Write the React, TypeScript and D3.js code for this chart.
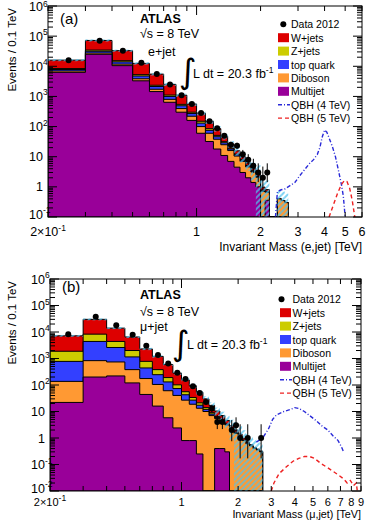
"use client";

import React, { useRef, useEffect } from 'react';
import * as d3 from 'd3';

const FONT = 'Liberation Sans, Arial, Helvetica, sans-serif';

// histogram bins, 0.1 TeV wide
const binCenters = [0.25, 0.35, 0.45, 0.55, 0.65, 0.75, 0.85, 0.95, 1.05, 1.15, 1.25, 1.35, 1.45, 1.55, 1.65, 1.75, 1.85, 1.95, 2.05, 2.15, 2.25, 2.35, 2.45, 2.55, 2.65];
const binWidth = 0.1;

const legendLabels = ['Data 2012', 'W+jets', 'Z+jets', 'top quark', 'Diboson', 'Multijet', 'QBH (4 TeV)', 'QBH (5 TeV)'];
// stack order bottom -> top
const stackColors = ['#990099', '#ff9933', '#3340ff', '#cccc00', '#dd0000'];

// (a) e+jet
const eData = [16000, 70000, 33000, 13000, 5500, 2500, 1100, 560, 280, 150, 88, 50, 25, 23, 12, 8, 5, 3, 2, 3, 0, 0, 0, 0, 0];
const eMultijet = [6300, 25000, 10500, 3300, 1450, 640, 300, 160, 60, 32, 18, 11, 7, 4.5, 3, 2, 1.4, 1.0, 0, 0.36, 0, 0, 0, 0, 0];
const eDiboson = [700, 2500, 1300, 550, 280, 160, 95, 60, 40, 28, 20, 14, 9, 6, 4, 2.6, 1.7, 1.1, 0.7, 0.3, 0, 0, 0.4, 0.35, 0.3];
const eTop = [800, 4000, 2200, 900, 400, 200, 95, 50, 30, 15, 8, 4, 2, 1.1, 0.6, 0.35, 0.2, 0.1, 0.05, 0.03, 0, 0, 0, 0, 0];
const eZjets = [600, 3000, 1300, 520, 220, 110, 55, 30, 20, 10, 5, 2.5, 1.2, 0.6, 0.3, 0.15, 0.1, 0.05, 0.03, 0.02, 0, 0, 0, 0, 0];
const eWjets = [7600, 37500, 17700, 7200, 3150, 1400, 555, 260, 130, 65, 34, 16, 7, 3.5, 2, 1.1, 0.6, 0.35, 0.2, 0.1, 0, 0, 0, 0, 0];
const eRelErr = [0.08, 0.08, 0.08, 0.09, 0.1, 0.11, 0.12, 0.14, 0.16, 0.18, 0.2, 0.22, 0.25, 0.3, 0.35, 0.45, 0.6, 1, 1, 1, 1, 1, 1, 1, 1];
const eQbh4X = [2.35, 2.4, 2.5, 2.6, 2.75, 2.9, 3.05, 3.2, 3.4, 3.55, 3.7, 3.8, 3.9, 4.0, 4.1, 4.2, 4.35, 4.5, 4.65, 4.8, 4.9, 5.0];
const eQbh4Y = [0.1, 0.7, 0.8, 0.85, 1.1, 1.4, 2.3, 3.5, 6, 8, 12, 20, 45, 77, 65, 42, 22, 10, 3.5, 1.2, 0.5, 0.1];
const eQbh5X = [4.2, 4.4, 4.6, 4.8, 4.95, 5.1, 5.25, 5.4, 5.55];
const eQbh5Y = [0.1, 0.25, 0.6, 1.2, 1.6, 1.5, 0.9, 0.35, 0.1];
const eXLabels = [1, 2, 3, 4, 5, 6];

// (b) mu+jet
const muData = [8300, 38000, 18000, 7800, 3000, 1350, 650, 290, 170, 90, 50, 23, 13, 4, 4, 0, 2, 3, 1, 0, 1, 0, 0, 0, 1];
const muMultijet = [22, 200, 220, 120, 44, 16, 5.8, 2.4, 0.8, 0.8, 0.25, 0, 0, 0.4, 0.4, 0.3, 0, 0, 0, 0, 0, 0, 0, 0, 0];
const muDiboson = [115, 630, 520, 260, 131, 89, 55, 38, 26, 18, 13, 10, 7, 5, 3.8, 2.8, 2.0, 1.5, 1.1, 0.8, 0.6, 0.5, 0.4, 0.35, 0.3];
const muTop = [640, 3570, 1860, 770, 265, 140, 70, 33, 16, 8, 4, 2, 1, 0.5, 0.3, 0.15, 0.1, 0.05, 0.03, 0.02, 0.01, 0, 0, 0, 0];
const muZjets = [1100, 3900, 1800, 850, 340, 135, 60, 28, 13, 7, 4, 2, 1, 0.5, 0.3, 0.15, 0.08, 0.04, 0.02, 0.01, 0, 0, 0, 0, 0];
const muWjets = [5300, 21700, 9600, 4500, 1520, 820, 400, 180, 100, 60, 32, 16, 8, 4, 2.2, 1.2, 0.7, 0.4, 0.25, 0.15, 0.1, 0.06, 0.04, 0.03, 0.02];
const muRelErr = [0.08, 0.08, 0.08, 0.09, 0.1, 0.11, 0.12, 0.14, 0.16, 0.18, 0.2, 0.25, 0.3, 0.35, 0.4, 0.5, 0.7, 1, 1, 1, 1, 1, 1, 1, 1];
const muQbh4X = [2.5, 2.7, 2.9, 3.05, 3.2, 3.5, 3.8, 4.0, 4.2, 4.5, 4.8, 5.2, 5.6, 6.0, 6.4, 6.8, 7.1, 7.3];
const muQbh4Y = [0.7, 1.0, 2.2, 5, 7.5, 10, 12, 14, 13, 10, 7, 4.5, 2.8, 2.0, 1.2, 0.8, 0.45, 0.28];
const muQbh5X = [3.0, 3.1, 3.3, 3.6, 3.9, 4.2, 4.5, 4.8, 5.1, 5.5, 6.0, 6.4, 6.9, 7.3, 7.6, 7.9, 8.2, 8.5, 8.6];
const muQbh5Y = [0.01, 0.02, 0.045, 0.08, 0.13, 0.17, 0.2, 0.2, 0.17, 0.11, 0.075, 0.055, 0.038, 0.028, 0.02, 0.025, 0.016, 0.02, 0.01];
const muXLabels = [1, 2, 3, 4, 5, 6, 7, 8, 9];

const panels = [
  {
    id: 'a', left: 48, right: 362, top: 6, bottom: 217,
    xDomain: [0.2, 6], yExp: [-1, 6],
    data: eData, stack: [eMultijet, eDiboson, eTop, eZjets, eWjets], relErr: eRelErr,
    qbh4: [eQbh4X, eQbh4Y], qbh5: [eQbh5X, eQbh5Y], xLabels: eXLabels,
    tag: '(a)', channel: 'e+jet', xTitle: 'Invariant Mass (e,jet) [TeV]',
    xTitleY: 251, xLabY: 235.5, xLabSize: 12.5, xTitleSize: 12,
    tagPos: [60, 23.5], atlasY: 22.5, sqrtsY: 37.5, chanPos: [148, 56],
    intPos: [179, 83], lumiPos: [193, 77.5], legY: 24.3, legBox: 278, legDot: 283.3, legText: 291,
  },
  {
    id: 'b', left: 50, right: 361, top: 279, bottom: 491,
    xDomain: [0.2, 9], yExp: [-2, 6],
    data: muData, stack: [muMultijet, muDiboson, muTop, muZjets, muWjets], relErr: muRelErr,
    qbh4: [muQbh4X, muQbh4Y], qbh5: [muQbh5X, muQbh5Y], xLabels: muXLabels,
    tag: '(b)', channel: 'μ+jet', xTitle: 'Invariant Mass (μ,jet) [TeV]',
    xTitleY: 517.7, xLabY: 505.6, xLabSize: 11, xTitleSize: 10.8,
    tagPos: [62, 292], atlasY: 299, sqrtsY: 316, chanPos: [140, 331],
    intPos: [172, 355], lumiPos: [187, 349], legY: 299.3, legBox: 280, legDot: 281.5, legText: 292.5,
  },
];

function drawPanel(svg: any, defs: any, p: any) {
  const g = svg.append('g');
  const x = d3.scaleLog().domain(p.xDomain).range([p.left, p.right]);
  const y = d3.scaleLog().domain([Math.pow(10, p.yExp[0]), Math.pow(10, p.yExp[1])]).range([p.bottom, p.top]).clamp(true);
  const yv = (v: number) => (v > 0 ? y(v) : p.bottom);
  const half = binWidth / 2;

  defs.append('clipPath').attr('id', 'clip-' + p.id)
    .append('rect').attr('x', p.left).attr('y', p.top)
    .attr('width', p.right - p.left).attr('height', p.bottom - p.top);
  const plot = g.append('g').attr('clip-path', `url(#clip-${p.id})`);

  // cumulative stack
  const cum: number[][] = [];
  let run = binCenters.map(() => 0);
  p.stack.forEach((layer: number[]) => {
    run = run.map((r, i) => r + layer[i]);
    cum.push(run);
  });

  const stepPath = (vals: number[]) => {
    let d = `M${x(binCenters[0] - half)},${p.bottom}`;
    binCenters.forEach((c, i) => {
      const yy = yv(vals[i]);
      d += `L${x(c - half)},${yy}L${x(c + half)},${yy}`;
    });
    d += `L${x(binCenters[binCenters.length - 1] + half)},${p.bottom}Z`;
    return d;
  };

  for (let k = cum.length - 1; k >= 0; k--) {
    plot.append('path').attr('d', stepPath(cum[k]))
      .attr('fill', stackColors[k]).attr('stroke', '#000').attr('stroke-width', 1);
  }

  // MC uncertainty band
  const total = cum[cum.length - 1];
  binCenters.forEach((c, i) => {
    const tot = total[i];
    if (tot <= 0) return;
    const hi = tot * (1 + p.relErr[i]);
    const lo = tot * (1 - p.relErr[i]);
    plot.append('rect')
      .attr('x', x(c - half)).attr('width', x(c + half) - x(c - half))
      .attr('y', yv(hi)).attr('height', yv(lo) - yv(hi))
      .attr('fill', 'url(#hatch)');
  });

  // QBH signals
  const sig = (xs: number[], ys: number[], color: string, dash: string) => {
    const line = d3.line<number>().x((_, i) => x(xs[i])).y(d => yv(d));
    plot.append('path').datum(ys).attr('d', line)
      .attr('fill', 'none').attr('stroke', color).attr('stroke-width', 1.4).attr('stroke-dasharray', dash);
  };
  sig(p.qbh4[0], p.qbh4[1], '#2a2ad8', '4,2,1,2');
  sig(p.qbh5[0], p.qbh5[1], '#ee2222', '4,3');

  // data
  binCenters.forEach((c, i) => {
    const n = p.data[i];
    if (n <= 0) return;
    const s = Math.sqrt(n);
    plot.append('line').attr('x1', x(c)).attr('x2', x(c))
      .attr('y1', yv(n + s + 1.3)).attr('y2', yv(n - s + 0.17))
      .attr('stroke', '#000').attr('stroke-width', 1);
    plot.append('circle').attr('cx', x(c)).attr('cy', yv(n)).attr('r', 3).attr('fill', '#000');
  });

  // frame
  g.append('rect').attr('x', p.left).attr('y', p.top)
    .attr('width', p.right - p.left).attr('height', p.bottom - p.top)
    .attr('fill', 'none').attr('stroke', '#000').attr('stroke-width', 1);

  // x ticks
  for (let e = -1; e <= 1; e++) {
    for (let m = 1; m <= 9; m++) {
      const v = m * Math.pow(10, e);
      if (v < p.xDomain[0] - 1e-9 || v > p.xDomain[1] + 1e-9) continue;
      const len = m === 1 ? 9 : 5;
      const xx = x(v);
      g.append('line').attr('x1', xx).attr('x2', xx).attr('y1', p.bottom).attr('y2', p.bottom - len).attr('stroke', '#000');
      g.append('line').attr('x1', xx).attr('x2', xx).attr('y1', p.top).attr('y2', p.top + len).attr('stroke', '#000');
    }
  }
  // y ticks
  for (let e = p.yExp[0]; e <= p.yExp[1]; e++) {
    for (let m = 1; m <= 9; m++) {
      if (e === p.yExp[1] && m > 1) continue;
      const yy = y(m * Math.pow(10, e));
      const len = m === 1 ? 9 : 5;
      g.append('line').attr('x1', p.left).attr('x2', p.left + len).attr('y1', yy).attr('y2', yy).attr('stroke', '#000');
      g.append('line').attr('x1', p.right).attr('x2', p.right - len).attr('y1', yy).attr('y2', yy).attr('stroke', '#000');
    }
    // label
    const yy = y(Math.pow(10, e));
    const base = e === 0 ? '1' : '10';
    const dyBase = e === p.yExp[0] ? 1.8 : 4.5;
    g.append('text').attr('x', p.left - 5).attr('y', yy + dyBase).attr('text-anchor', 'end')
      .attr('font-family', FONT).attr('font-size', 12.5).text(base);
    if (e !== 0 && e !== 1) {
      g.append('text').attr('x', p.left - 5).attr('y', Math.max(yy + dyBase - 5.5, 7)).attr('font-family', FONT).attr('font-size', 8.5).text(String(e));
    }
  }

  // x tick labels ("2×10" and its exponent as two texts, centred together)
  const mant = g.append('text').attr('y', p.xLabY).attr('font-family', FONT).attr('font-size', p.xLabSize).text('2×10');
  const expo = g.append('text').attr('y', p.xLabY - 5).attr('font-family', FONT).attr('font-size', 8.5).text('-1');
  const w1 = (mant.node() as SVGTextElement).getComputedTextLength();
  const w2 = (expo.node() as SVGTextElement).getComputedTextLength();
  const x0 = x(0.2) - (w1 + w2) / 2;
  mant.attr('x', x0);
  expo.attr('x', x0 + w1);
  p.xLabels.forEach((v: number) => {
    g.append('text').attr('x', x(v)).attr('y', p.xLabY).attr('text-anchor', 'middle')
      .attr('font-family', FONT).attr('font-size', p.xLabSize).text(String(v));
  });

  // axis titles
  g.append('text').attr('x', p.right).attr('y', p.xTitleY).attr('text-anchor', 'end')
    .attr('font-family', FONT).attr('font-size', p.xTitleSize).text(p.xTitle);
  g.append('text').attr('transform', `translate(16,${p.top + 2}) rotate(-90)`).attr('text-anchor', 'end')
    .attr('font-family', FONT).attr('font-size', 11.5).text('Events / 0.1 TeV');

  // labels
  g.append('text').attr('x', p.tagPos[0]).attr('y', p.tagPos[1]).attr('font-family', FONT).attr('font-size', 15).text(p.tag);
  g.append('text').attr('x', 140).attr('y', p.atlasY).attr('font-family', FONT).attr('font-size', 12.5)
    .attr('font-weight', 'bold').text('ATLAS');
  g.append('text').attr('x', 140).attr('y', p.sqrtsY).attr('font-family', FONT).attr('font-size', 12.5).text('√s = 8 TeV');
  g.append('text').attr('x', p.chanPos[0]).attr('y', p.chanPos[1]).attr('font-family', FONT).attr('font-size', 12.5).text(p.channel);
  g.append('text').attr('x', p.intPos[0]).attr('y', p.intPos[1]).attr('font-family', 'DejaVu Sans, sans-serif')
    .attr('font-size', 34).text('∫');
  const lumi = g.append('text').attr('x', p.lumiPos[0]).attr('y', p.lumiPos[1]).attr('font-family', FONT).attr('font-size', 12.5);
  lumi.append('tspan').text('L dt = 20.3 fb');
  lumi.append('tspan').attr('dy', -5).attr('font-size', 8.5).text('-1');

  // legend
  legendLabels.forEach((label, k) => {
    const cy = p.legY + 13.4 * k;
    if (k === 0) {
      g.append('circle').attr('cx', p.legDot).attr('cy', cy).attr('r', 3).attr('fill', '#000');
    } else if (k <= 5) {
      g.append('rect').attr('x', p.legBox).attr('y', cy - 4.5).attr('width', 11).attr('height', 9)
        .attr('fill', stackColors[5 - k]);
    } else {
      g.append('line').attr('x1', p.legBox).attr('x2', p.legBox + 12).attr('y1', cy).attr('y2', cy)
        .attr('stroke', k === 6 ? '#2a2ad8' : '#ee2222').attr('stroke-width', 1.4)
        .attr('stroke-dasharray', k === 6 ? '4,2,1,2' : '4,3');
    }
    g.append('text').attr('x', p.legText).attr('y', cy + 4).attr('font-family', FONT).attr('font-size', 10.5).text(label);
  });
}

const App: React.FC = () => {
  const svgRef = useRef<SVGSVGElement>(null);

  useEffect(() => {
    if (!svgRef.current) return;
    const svg = d3.select(svgRef.current);
    svg.selectAll('*').remove();
    const defs = svg.append('defs');
    const pat = defs.append('pattern').attr('id', 'hatch').attr('patternUnits', 'userSpaceOnUse')
      .attr('width', 4).attr('height', 4).attr('patternTransform', 'rotate(45)');
    pat.append('line').attr('x1', 1).attr('y1', 0).attr('x2', 1).attr('y2', 4)
      .attr('stroke', '#4ec3ee').attr('stroke-width', 1.4);
    panels.forEach(p => drawPanel(svg, defs, p));
  }, []);

  return (
    <div style={{ position: 'absolute', left: 0, top: 0 }}>
      <svg ref={svgRef} width={371} height={520} style={{ display: 'block', background: '#fff' }}></svg>
    </div>
  );
};

export default App;
